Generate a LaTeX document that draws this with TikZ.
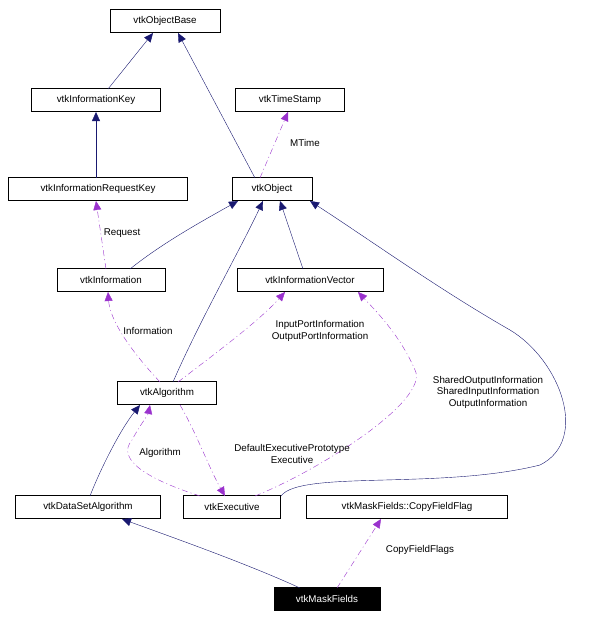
\documentclass[tikz,border=0pt]{standalone}
\usepackage{fontspec}
\setmainfont{Liberation Sans}
\usetikzlibrary{arrows.meta}
\definecolor{navy}{RGB}{25,25,112}
\definecolor{purp}{RGB}{154,50,205}
\begin{document}
\begin{tikzpicture}[x=1pt,y=-1pt,
  box/.style={draw,fill=white,minimum height=23pt,inner sep=0pt,font=\fontsize{9.8}{11}\selectfont},
  inh/.style={draw=navy,-{Triangle[length=9pt,width=8pt,fill=navy]}},
  use/.style={draw=purp,dash pattern=on 6pt off 3pt on 1pt off 3pt,-{Triangle[length=9pt,width=8pt,fill=purp]}},
  lab/.style={font=\fontsize{9.8}{11.5}\selectfont,align=center,inner sep=1pt}]
\useasboundingbox (0,0) rectangle (607,618);
\node[box,minimum width=110pt] (ob) at (165,21) {vtkObjectBase};
\node[box,minimum width=129pt] (ik) at (96,100) {vtkInformationKey};
\node[box,minimum width=109pt] (ts) at (290,100) {vtkTimeStamp};
\node[box,minimum width=179pt] (irk) at (98,189) {vtkInformationRequestKey};
\node[box,minimum width=80pt] (o) at (272,189) {vtkObject};
\node[box,minimum width=108pt] (inf) at (111,280) {vtkInformation};
\node[box,minimum width=146pt] (iv) at (310,280) {vtkInformationVector};
\node[box,minimum width=99pt] (alg) at (167,393) {vtkAlgorithm};
\node[box,minimum width=145pt] (dsa) at (88,507) {vtkDataSetAlgorithm};
\node[box,minimum width=97pt] (ex) at (232,507) {vtkExecutive};
\node[box,minimum width=201pt] (cff) at (407,507) {vtkMaskFields::CopyFieldFlag};
\node[box,minimum width=106pt,fill=black,text=white] (mf) at (327,599) {vtkMaskFields};

\draw[inh] (108,89) -- (153,33);
\draw[inh] (255,178) -- (178,33);
\draw[inh] (96,178) -- (96,112);
\draw[use] (260,178) -- (288,112);
\node[lab] at (305,143) {MTime};
\draw[inh] (130,269) .. controls (160,245) and (195,225) .. (238,201);
\draw[use] (106,269) -- (96,201);
\node[lab] at (122,233) {Request};
\draw[inh] (303,269) -- (280,201);
\draw[inh] (173,382) .. controls (200,320) and (240,250) .. (263,201);
\draw[use] (160,382) .. controls (130,350) and (110,320) .. (108,292);
\node[lab] at (148,331) {Information};
\draw[use] (178,382) .. controls (220,350) and (260,320) .. (285,292);
\node[lab] at (320,331) {InputPortInformation\\OutputPortInformation};
\draw[inh] (281,496) .. controls (300,470) and (440,490) .. (540,465) .. controls (590,440) and (560,360) .. (510,330) .. controls (440,290) and (370,240) .. (310,201);
\draw[use] (255,496) .. controls (320,470) and (430,400) .. (415,370) .. controls (400,335) and (375,310) .. (358,292);
\node[lab] at (488,392) {SharedOutputInformation\\SharedInputInformation\\OutputInformation};
\draw[use] (200,496) .. controls (150,480) and (115,460) .. (132,440) .. controls (140,425) and (148,415) .. (150,405);
\node[lab] at (160,453) {Algorithm};
\draw[use] (180,405) .. controls (195,430) and (210,470) .. (225,496);
\node[lab] at (292,454) {DefaultExecutivePrototype\\Executive};
\draw[inh] (90,496) .. controls (100,470) and (120,430) .. (140,405);
\draw[inh] (300,588) .. controls (250,565) and (180,540) .. (122,519);
\draw[use] (337,588) -- (381,519);
\node[lab] at (420,550) {CopyFieldFlags};
\end{tikzpicture}
\end{document}
